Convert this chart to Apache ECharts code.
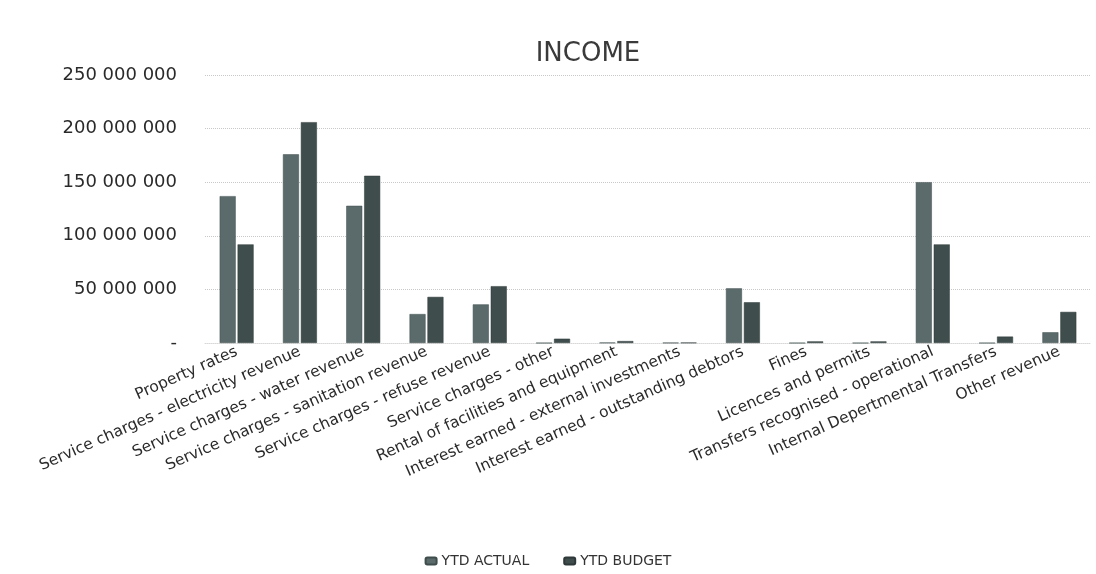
<!DOCTYPE html>
<html>
<head>
<meta charset="utf-8">
<script src="https://cdn.jsdelivr.net/npm/echarts@6/dist/echarts.min.js"></script>
<style>html,body{margin:0;padding:0;background:#fff}#c{width:1096px;height:574px}</style>
</head>
<body>
<div id="c"></div>
<script>
const categories = [
  "Property rates",
  "Service charges - electricity revenue",
  "Service charges - water revenue",
  "Service charges - sanitation revenue",
  "Service charges - refuse revenue",
  "Service charges - other",
  "Rental of facilities and equipment",
  "Interest earned - external investments",
  "Interest earned - outstanding debtors",
  "Fines",
  "Licences and permits",
  "Transfers recognised - operational",
  "Internal Depertmental Transfers",
  "Other revenue"
];
const ytdActual = [137000000, 176000000, 128000000, 27000000, 36000000, 0, 300000, 200000, 51000000, 0, 0, 150000000, 0, 10000000];
const ytdBudget = [92000000, 206000000, 156000000, 43000000, 53000000, 4000000, 1800000, 300000, 38000000, 1500000, 1500000, 92000000, 6000000, 29000000];
const yTicks = [0, 50000000, 100000000, 150000000, 200000000, 250000000];

function fmt(v){
  if (v === 0) return "-";
  return String(v).replace(/\B(?=(\d{3})+(?!\d))/g, " ");
}

const chart = echarts.init(document.getElementById('c'));
chart.setOption({
  backgroundColor: '#ffffff',
  animation: false,
  title: {
    text: 'INCOME', left: 583, top: 36, textAlign: 'center',
    textStyle: {fontFamily: 'DejaVu Sans', fontSize: 26, fontWeight: 'normal', color: '#3a3a3a'}
  },
  legend: {
    data: ['YTD ACTUAL', 'YTD BUDGET'],
    left: 'center', top: 549, itemWidth: 11, itemHeight: 7, itemGap: 34,
    textStyle: {fontFamily: 'DejaVu Sans', fontSize: 14, color: '#333'}
  },
  grid: {left: 205, right: 5, top: 75, height: 268, containLabel: false},
  xAxis: {
    type: 'category', data: categories,
    axisLine: {show: true, lineStyle: {color: '#d8d8d8', type: 'dotted'}},
    axisTick: {show: false},
    axisLabel: {interval: 0, rotate: 24, margin: 8, fontFamily: 'DejaVu Sans', fontSize: 15.5, color: '#2a2a2a'}
  },
  yAxis: {
    type: 'value', min: yTicks[0], max: yTicks[yTicks.length-1], interval: yTicks[1]-yTicks[0],
    axisLine: {show: false}, axisTick: {show: false},
    splitLine: {lineStyle: {color: '#c8c8c8', type: 'dotted'}},
    axisLabel: {formatter: fmt, margin: 28, fontFamily: 'DejaVu Sans', fontSize: 18, color: '#2a2a2a'}
  },
  series: [
    {name: 'YTD ACTUAL', type: 'bar', data: ytdActual, barWidth: 16, barGap: '12%',
     itemStyle: {color: '#5b6b6b', borderColor: '#3f4c4c', borderWidth: 0.5}},
    {name: 'YTD BUDGET', type: 'bar', data: ytdBudget, barWidth: 16,
     itemStyle: {color: '#3f4d4d', borderColor: '#2e3838', borderWidth: 0.5}}
  ]
});
</script>
</body>
</html>
